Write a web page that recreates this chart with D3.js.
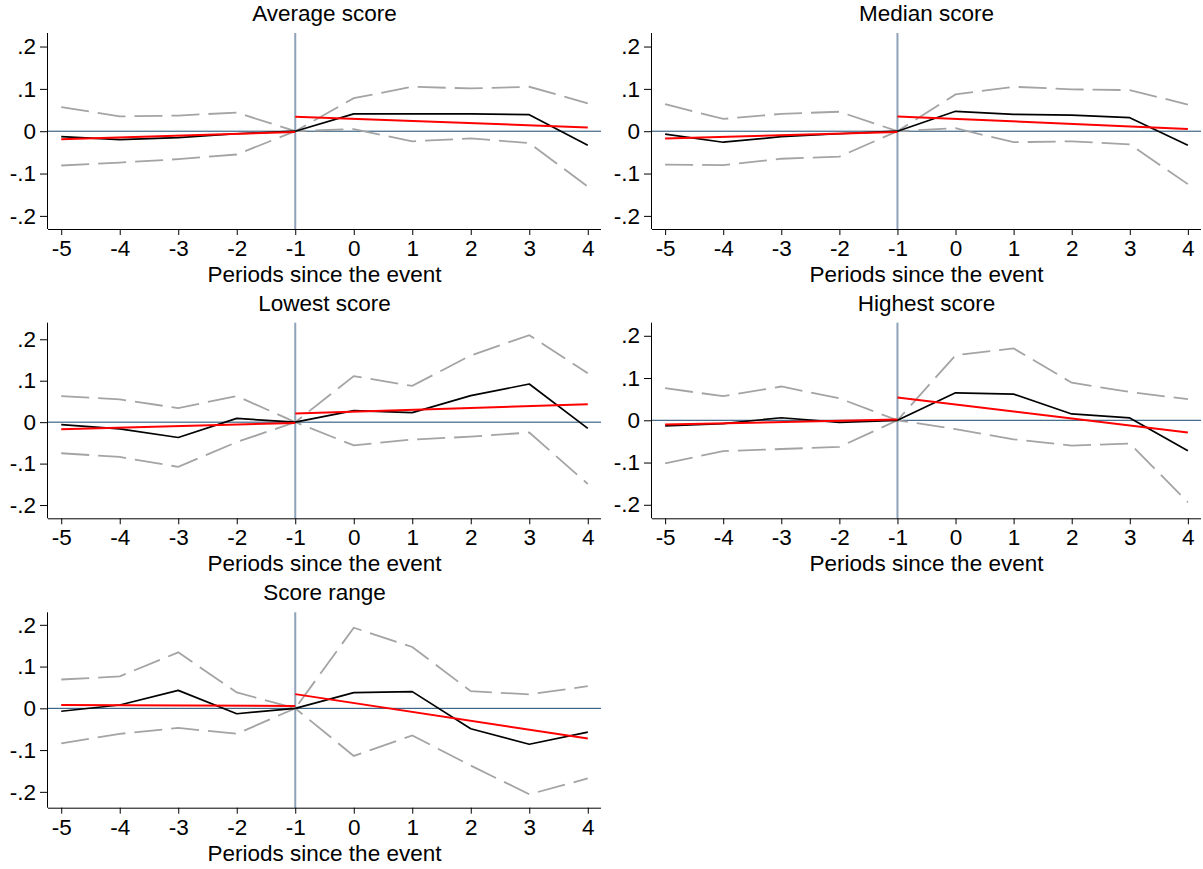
<!DOCTYPE html>
<html>
<head>
<meta charset="utf-8">
<script src="https://cdn.jsdelivr.net/npm/d3@7"></script>
<style>
  html, body { margin: 0; padding: 0; background: #fff; }
  svg { display: block; font-family: "Liberation Sans", Arial, Helvetica, sans-serif; }
</style>
</head>
<body>
<script>
// Event-study estimates with 95% confidence bands and pre/post linear fits.
const periods = [-5, -4, -3, -2, -1, 0, 1, 2, 3, 4];
const preFitPeriods = [-5, -1];
const postFitPeriods = [-1, 4];
const yTickValues = [-0.2, -0.1, 0, 0.1, 0.2];
const yTickLabels = ["-.2", "-.1", "0", ".1", ".2"];
const xAxisTitle = "Periods since the event";

const panelTitles = ["Average score", "Median score", "Lowest score", "Highest score", "Score range"];

// Average score
const avgEst   = [-0.013, -0.020, -0.015, -0.006, 0, 0.041, 0.041, 0.041, 0.039, -0.033];
const avgUpper = [0.057, 0.035, 0.037, 0.044, 0, 0.078, 0.105, 0.101, 0.105, 0.066];
const avgLower = [-0.081, -0.074, -0.066, -0.055, 0, 0.005, -0.024, -0.017, -0.028, -0.131];
const avgPre   = [-0.019, -0.002];
const avgPost  = [0.034, 0.009];

// Median score
const medEst   = [-0.007, -0.026, -0.013, -0.006, 0, 0.047, 0.040, 0.038, 0.032, -0.033];
const medUpper = [0.064, 0.029, 0.041, 0.046, 0, 0.087, 0.105, 0.099, 0.097, 0.063];
const medLower = [-0.079, -0.080, -0.065, -0.060, 0, 0.007, -0.026, -0.024, -0.031, -0.125];
const medPre   = [-0.017, -0.002];
const medPost  = [0.035, 0.0055];

// Lowest score
const lowEst   = [-0.006, -0.016, -0.037, 0.009, 0, 0.028, 0.023, 0.064, 0.092, -0.015];
const lowUpper = [0.063, 0.055, 0.034, 0.063, 0, 0.111, 0.0875, 0.161, 0.210, 0.118];
const lowLower = [-0.075, -0.084, -0.108, -0.048, 0, -0.056, -0.042, -0.035, -0.025, -0.149];
const lowPre   = [-0.017, -0.002];
const lowPost  = [0.021, 0.043];

// Highest score
const highEst   = [-0.013, -0.008, 0.006, -0.005, 0, 0.065, 0.062, 0.015, 0.0055, -0.072];
const highUpper = [0.076, 0.057, 0.080, 0.052, 0, 0.154, 0.170, 0.089, 0.067, 0.050];
const highLower = [-0.102, -0.073, -0.068, -0.063, 0, -0.021, -0.045, -0.060, -0.055, -0.194];
const highPre   = [-0.010, 0.0016];
const highPost  = [0.054, -0.029];

// Score range
const rangeEst   = [-0.007, 0.008, 0.043, -0.013, 0, 0.0375, 0.040, -0.049, -0.086, -0.057];
const rangeUpper = [0.069, 0.0765, 0.134, 0.038, 0, 0.193, 0.147, 0.041, 0.0335, 0.053];
const rangeLower = [-0.084, -0.061, -0.047, -0.061, 0, -0.114, -0.065, -0.137, -0.206, -0.168];
const rangePre   = [0.008, 0.0056];
const rangePost  = [0.034, -0.0725];

const panels = [
  { title: panelTitles[0], est: avgEst,   upper: avgUpper,   lower: avgLower,   pre: avgPre,   post: avgPost },
  { title: panelTitles[1], est: medEst,   upper: medUpper,   lower: medLower,   pre: medPre,   post: medPost },
  { title: panelTitles[2], est: lowEst,   upper: lowUpper,   lower: lowLower,   pre: lowPre,   post: lowPost },
  { title: panelTitles[3], est: highEst,  upper: highUpper,  lower: highLower,  pre: highPre,  post: highPost },
  { title: panelTitles[4], est: rangeEst, upper: rangeUpper, lower: rangeLower, pre: rangePre, post: rangePost }
];

// ---- layout ----
const W = 1203, H = 869;
const cols = [{ left: 48, right: 601 }, { left: 652, right: 1201 }];
const rows = [{ top: 33, bottom: 229 }, { top: 322.7, bottom: 518.3 }, { top: 612.3, bottom: 807.7 }];
const xDomain = [-5.226, 4.226];
const yDomains = [[-0.231, 0.232], [-0.231, 0.232], [-0.232, 0.240], [-0.232, 0.231], [-0.238, 0.230]];
const fontSize = 22.5;
const fontFamily = "Liberation Sans, Arial, Helvetica, sans-serif";

const svg = d3.select("body").append("svg")
  .attr("width", W).attr("height", H)
  .attr("viewBox", `0 0 ${W} ${H}`);
svg.append("rect").attr("width", W).attr("height", H).attr("fill", "#fff");

panels.forEach((p, i) => {
  const col = cols[i % 2], row = rows[Math.floor(i / 2)];
  const x = d3.scaleLinear().domain(xDomain).range([col.left, col.right]);
  const y = d3.scaleLinear().domain(yDomains[i]).range([row.bottom, row.top]);
  const g = svg.append("g");

  // reference lines: zero and event period
  g.append("line")
    .attr("x1", col.left).attr("x2", col.right)
    .attr("y1", y(0)).attr("y2", y(0))
    .attr("stroke", "#1a476f").attr("stroke-width", 1);
  g.append("line")
    .attr("x1", x(-1)).attr("x2", x(-1))
    .attr("y1", row.top).attr("y2", row.bottom)
    .attr("stroke", "#8ea2b9").attr("stroke-width", 2);

  const line = d3.line().x((d, k) => x(periods[k])).y(d => y(d));

  // confidence bands
  [p.upper, p.lower].forEach(s => {
    g.append("path").datum(s).attr("d", line)
      .attr("fill", "none").attr("stroke", "#a4a4a4")
      .attr("stroke-width", 1.8).attr("stroke-dasharray", "28,9");
  });

  // point estimates
  g.append("path").datum(p.est).attr("d", line)
    .attr("fill", "none").attr("stroke", "#000").attr("stroke-width", 1.7)
    .attr("stroke-linejoin", "round");

  // linear fits before and after the event
  const fitLine = ps => d3.line().x((d, k) => x(ps[k])).y(d => y(d));
  g.append("path").datum(p.pre).attr("d", fitLine(preFitPeriods))
    .attr("fill", "none").attr("stroke", "#ff0000").attr("stroke-width", 2);
  g.append("path").datum(p.post).attr("d", fitLine(postFitPeriods))
    .attr("fill", "none").attr("stroke", "#ff0000").attr("stroke-width", 2);

  // axes
  const xAxis = d3.axisBottom(x).tickValues(periods).tickSize(6).tickPadding(5)
    .tickFormat(d => String(d));
  const gx = g.append("g").attr("transform", `translate(0,${row.bottom})`).call(xAxis);
  gx.select(".domain").attr("d", `M${col.left},0.5H${col.right}`).attr("stroke", "#000");
  gx.selectAll(".tick line").attr("stroke", "#000");
  gx.selectAll(".tick text").attr("font-size", fontSize).attr("fill", "#000")
    .attr("font-family", fontFamily);

  const yAxis = d3.axisLeft(y).tickValues(yTickValues).tickSize(8).tickPadding(4)
    .tickFormat((d, k) => yTickLabels[k]);
  const gy = g.append("g").attr("transform", `translate(${col.left},0)`).call(yAxis);
  gy.select(".domain").attr("d", `M-0.5,${row.top}V${row.bottom}`).attr("stroke", "#000");
  gy.selectAll(".tick line").attr("stroke", "#000");
  gy.selectAll(".tick text").attr("font-size", fontSize).attr("fill", "#000")
    .attr("font-family", fontFamily);

  // titles
  g.append("text")
    .attr("x", (col.left + col.right) / 2).attr("y", row.top - 12)
    .attr("text-anchor", "middle").attr("font-size", fontSize).attr("fill", "#000")
    .attr("font-family", fontFamily)
    .text(p.title);
  g.append("text")
    .attr("x", (col.left + col.right) / 2).attr("y", row.bottom + 53)
    .attr("text-anchor", "middle").attr("font-size", fontSize).attr("fill", "#000")
    .attr("font-family", fontFamily)
    .text(xAxisTitle);
});
</script>
</body>
</html>
